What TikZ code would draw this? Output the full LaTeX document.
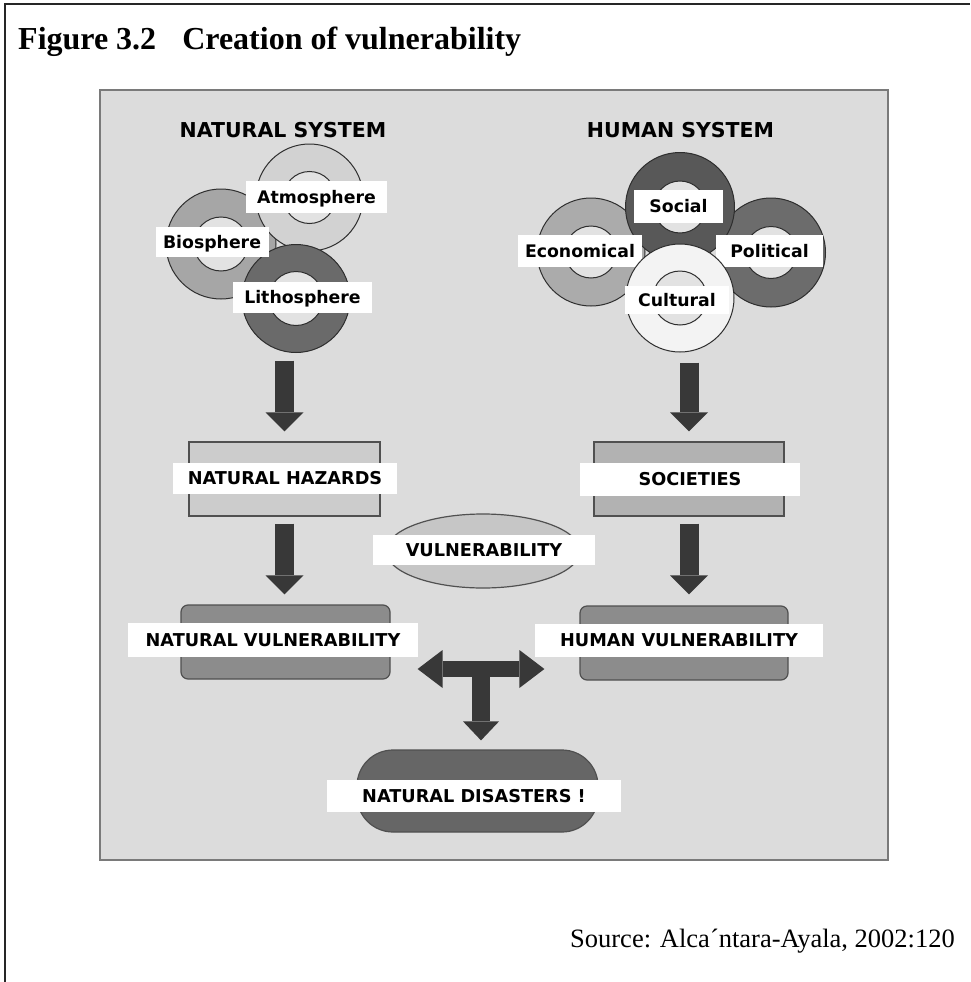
\documentclass[tikz,border=0pt]{standalone}
\usepackage{fontspec}
\setmainfont{Liberation Serif}
\newfontfamily\labfont{DejaVu Sans}
\usetikzlibrary{arrows.meta,shapes.geometric}
\definecolor{panelc}{HTML}{DCDCDC}
\definecolor{panelline}{HTML}{7A7A7A}
\definecolor{ringline}{HTML}{2E2E2E}
\definecolor{holec}{HTML}{E2E2E2}
\definecolor{atmc}{HTML}{D2D2D2}
\definecolor{bioc}{HTML}{A6A6A6}
\definecolor{litc}{HTML}{6A6A6A}
\definecolor{ecoc}{HTML}{ABABAB}
\definecolor{polc}{HTML}{6C6C6C}
\definecolor{socc}{HTML}{585858}
\definecolor{culc}{HTML}{F3F3F3}
\definecolor{hazc}{HTML}{CCCCCC}
\definecolor{socbc}{HTML}{B2B2B2}
\definecolor{vulc}{HTML}{C6C6C6}
\definecolor{nvc}{HTML}{8C8C8C}
\definecolor{ndc}{HTML}{666666}
\definecolor{arrowc}{HTML}{383838}
\definecolor{boxline}{HTML}{505050}
\begin{document}
\begin{tikzpicture}[x=1pt,y=-1pt,
  ring/.style={circle, draw=ringline, line width=1pt, inner sep=0pt},
  boxlab/.style={fill=white, inner sep=0pt, font=\labfont\bfseries\fontsize{17.7}{20}\selectfont, text height=12.9pt, text depth=0pt},
  ringlab/.style={fill=white, inner sep=0pt, font=\labfont\bfseries\fontsize{17.3}{20}\selectfont, text height=12.6pt, text depth=0pt},
  hdr/.style={inner sep=0pt, font=\labfont\bfseries\fontsize{20.5}{24}\selectfont, text height=15pt, text depth=0pt},
  flatbox/.style={draw=boxline, line width=1.2pt, inner sep=0pt},
  bigarrow/.style={draw=arrowc, line width=19pt, -{Triangle[width=38pt,length=19pt,line width=0pt]}},
  dblarrow/.style={draw=arrowc, line width=16pt, {Triangle[width=38pt,length=25pt,line width=0pt]}-{Triangle[width=38pt,length=25pt,line width=0pt]}},
  stemarrow/.style={draw=arrowc, line width=18pt, -{Triangle[width=36pt,length=19pt,line width=0pt]}}
]
\useasboundingbox (0,0) rectangle (970,982);
% outer frame
\draw[line width=2pt, black!85] (5,982) -- (5,4) -- (970,4);
% title and source
\node[anchor=base west, inner sep=0pt, font=\bfseries\fontsize{32}{36}\selectfont] (title) at (18,50) {Figure 3.2\hspace{26pt}Creation of vulnerability};
\node[anchor=base east, inner sep=0pt, font=\fontsize{26.5}{30}\selectfont] (src) at (955,947) {Source: Alca´ntara-Ayala, 2002:120};
% panel
\node[draw=panelline, fill=panelc, line width=2pt, minimum width=788pt, minimum height=770pt, inner sep=0pt] (panel) at (494,475) {};
% headers
\node[hdr] (nsys) at (283,129.5) {NATURAL SYSTEM};
\node[hdr] (hsys) at (680.5,129.5) {HUMAN SYSTEM};
% natural rings
\node[ring, minimum size=110pt, fill=bioc] (bio) at (221,244) {};
\node[ring, minimum size=54pt, fill=holec] (bioh) at (bio) {};
\node[ring, minimum size=107pt, fill=atmc] (atm) at (309.5,197.5) {};
\node[ring, minimum size=52pt, fill=holec] (atmh) at (atm) {};
\node[ring, minimum size=108pt, fill=litc] (lit) at (296,298.5) {};
\node[ring, minimum size=54pt, fill=holec] (lith) at (lit) {};
\node[ringlab, minimum width=141pt, minimum height=32pt] (atml) at (316.5,197) {Atmosphere};
\node[ringlab, minimum width=113pt, minimum height=30pt] (biol) at (212,242) {Biosphere};
\node[ringlab, minimum width=139pt, minimum height=31pt] (litl) at (302.5,297.5) {Lithosphere};
% human rings
\node[ring, minimum size=108pt, fill=ecoc] (eco) at (591,252) {};
\node[ring, minimum size=52pt, fill=holec] (ecoh) at (eco) {};
\node[ring, minimum size=109pt, fill=polc] (pol) at (771,252.5) {};
\node[ring, minimum size=52pt, fill=holec] (polh) at (pol) {};
\node[ring, minimum size=109pt, fill=socc] (soc) at (680,207) {};
\node[ring, minimum size=52pt, fill=holec] (soch) at (soc) {};
\node[ringlab, minimum width=124pt, minimum height=32pt] (ecol) at (580,251) {Economical};
\node[ringlab, minimum width=107pt, minimum height=32pt] (poll) at (769.5,251) {Political};
\node[ringlab, minimum width=89pt, minimum height=33pt] (socl) at (678.5,206.5) {Social};
\node[ring, minimum size=108pt, fill=culc] (cul) at (680,298) {};
\node[ring, minimum size=54pt, fill=holec] (culh) at (cul) {};
\node[ringlab, minimum width=104pt, minimum height=28pt] (cull) at (677,300) {Cultural};
% boxes
\node[flatbox, fill=hazc, minimum width=191pt, minimum height=74pt] (haz) at (284.5,479) {};
\node[boxlab, minimum width=224pt, minimum height=31pt] (hazl) at (285,478) {NATURAL HAZARDS};
\node[flatbox, fill=socbc, minimum width=190pt, minimum height=74pt] (socb) at (689,479) {};
\node[boxlab, minimum width=220pt, minimum height=33pt] (socbl) at (690,479) {SOCIETIES};
\node[flatbox, ellipse, fill=vulc, minimum width=194pt, minimum height=74pt] (vul) at (483,551) {};
\node[boxlab, minimum width=222pt, minimum height=30pt] (vull) at (484,550) {VULNERABILITY};
\node[flatbox, rounded corners=7pt, fill=nvc, minimum width=209pt, minimum height=74pt] (nv) at (285.5,642) {};
\node[boxlab, minimum width=290pt, minimum height=34pt] (nvl) at (273,640) {NATURAL VULNERABILITY};
\node[flatbox, rounded corners=7pt, fill=nvc, minimum width=208pt, minimum height=74pt] (hv) at (684,643) {};
\node[boxlab, minimum width=288pt, minimum height=33pt] (hvl) at (679,640.5) {HUMAN VULNERABILITY};
\node[flatbox, rounded corners=36pt, fill=ndc, minimum width=241pt, minimum height=82pt] (nd) at (477.5,791) {};
\node[boxlab, minimum width=294pt, minimum height=32pt] (ndl) at (474,796) {NATURAL DISASTERS !};
% arrows
\draw[bigarrow, shorten <=7.5pt, shorten >=10pt] (haz.north |- lit.south) -- (haz.north);
\draw[bigarrow, shorten <=7pt, shorten >=10pt] (haz.south) -- (haz.south |- nv.north);
\draw[bigarrow, shorten <=10pt, shorten >=10pt] (socb.north |- cul.south) -- (socb.north);
\draw[bigarrow, shorten <=7pt, shorten >=11pt] (socb.south) -- (socb.south |- hv.north);
\coordinate (jn) at (481,669);
\draw[stemarrow, shorten >=9pt] (jn) -- (jn |- nd.north);
\draw[dblarrow, shorten <=27pt, shorten >=35pt] (nv.east |- jn) -- (hv.west |- jn);
\end{tikzpicture}
\end{document}
